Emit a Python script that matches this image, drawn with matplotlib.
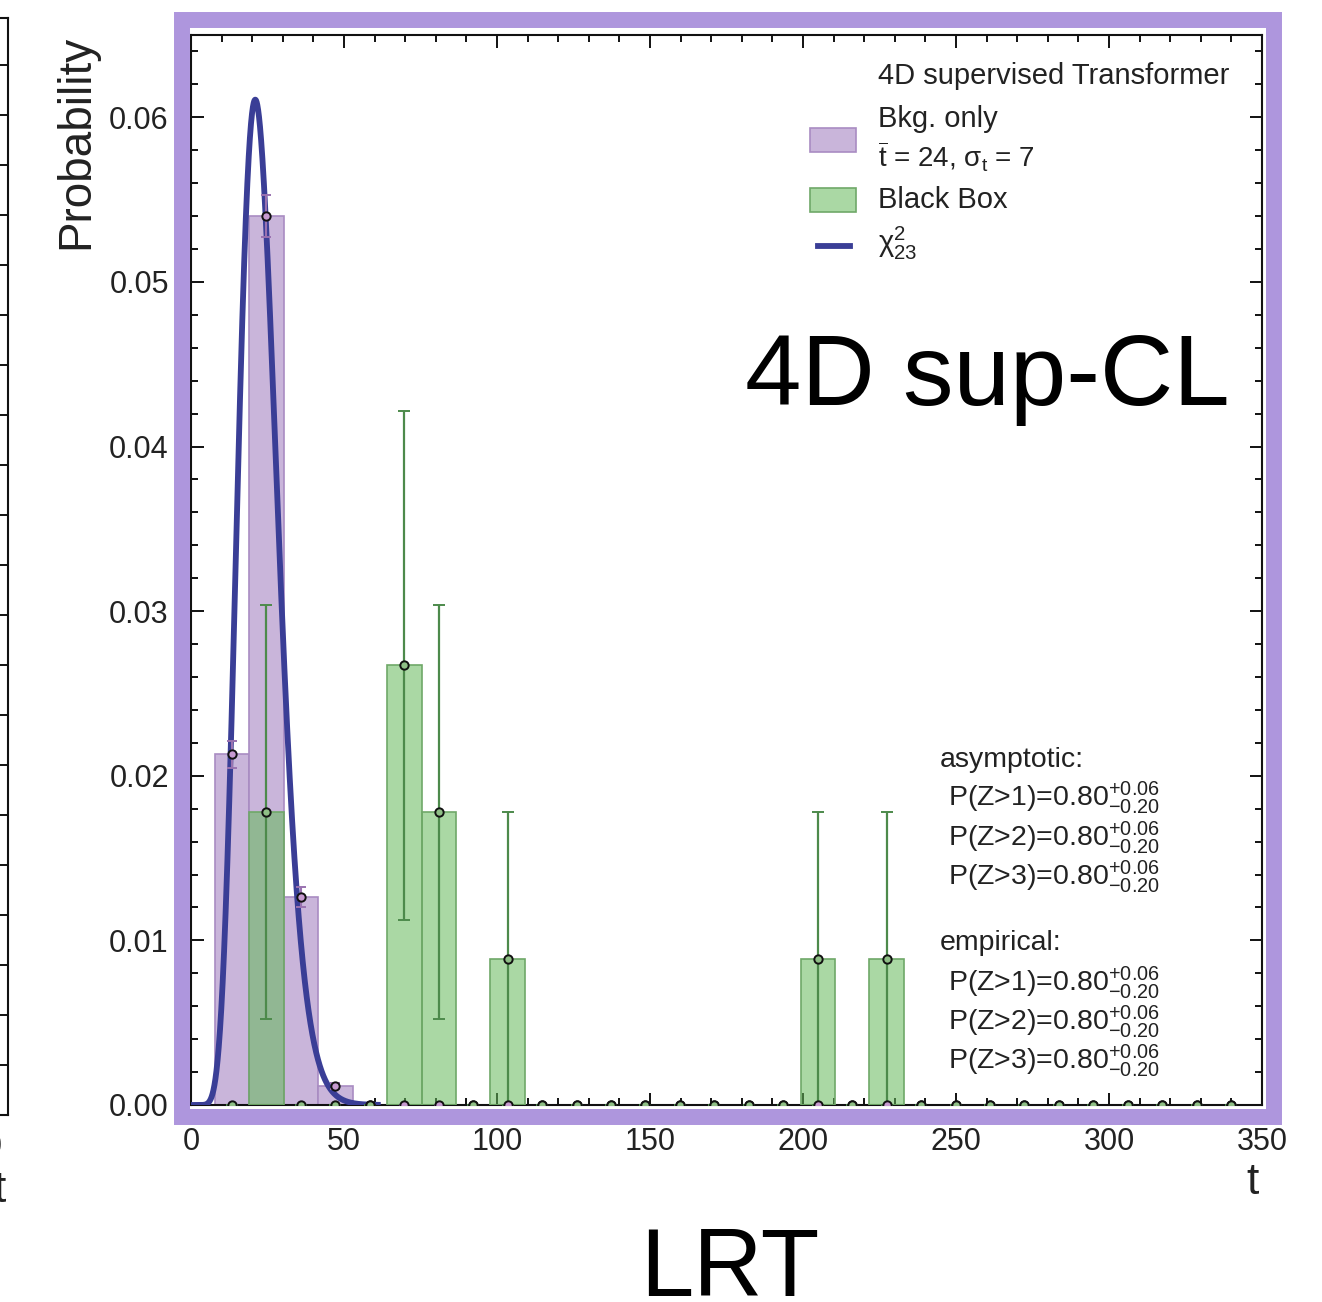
import math
import numpy as np
import matplotlib
matplotlib.use("Agg")
import matplotlib.pyplot as plt
from matplotlib.patches import Rectangle
from matplotlib.lines import Line2D
from matplotlib.ticker import MultipleLocator, FormatStrFormatter

plt.rcParams['font.family'] = ['Liberation Sans', 'DejaVu Sans']
plt.rcParams['mathtext.fontset'] = 'custom'
plt.rcParams['mathtext.rm'] = 'Liberation Sans'
plt.rcParams['mathtext.it'] = 'Liberation Sans:italic'
plt.rcParams['mathtext.bf'] = 'Liberation Sans:bold'

# ---- data ---------------------------------------------------------------
t_min, t_max, n_bins = 7.77, 345.57, 30

# background-only toys: probability density per bin and its uncertainty
bkg_density = [0.0213, 0.0540, 0.01263, 0.00115] + [0.0] * 26
bkg_error = [0.0008, 0.0013, 0.0006, 0.0002] + [0.0] * 26

# black-box sample: probability density per bin with asymmetric errors
bb_density = [0.0, 0.0178, 0.0, 0.0, 0.0, 0.0267, 0.0178, 0.0, 0.00888, 0.0,
              0.0, 0.0, 0.0, 0.0, 0.0, 0.0, 0.0, 0.00888, 0.0, 0.00888,
              0.0, 0.0, 0.0, 0.0, 0.0, 0.0, 0.0, 0.0, 0.0, 0.0]
bb_err_low = [0.0, 0.0126, 0.0, 0.0, 0.0, 0.01547, 0.0126, 0.0, 0.00888, 0.0,
              0.0, 0.0, 0.0, 0.0, 0.0, 0.0, 0.0, 0.00888, 0.0, 0.00888,
              0.0, 0.0, 0.0, 0.0, 0.0, 0.0, 0.0, 0.0, 0.0, 0.0]
bb_err_high = [0.0, 0.0126, 0.0, 0.0, 0.0, 0.01545, 0.0126, 0.0, 0.00892, 0.0,
               0.0, 0.0, 0.0, 0.0, 0.0, 0.0, 0.0, 0.00892, 0.0, 0.00892,
               0.0, 0.0, 0.0, 0.0, 0.0, 0.0, 0.0, 0.0, 0.0, 0.0]

chi2_dof = 23
x_ticks = [0, 50, 100, 150, 200, 250, 300, 350]
y_ticks = [0.00, 0.01, 0.02, 0.03, 0.04, 0.05, 0.06]

# ---- figure -------------------------------------------------------------
W, H = 1322, 1302
fig = plt.figure(figsize=(W / 100, H / 100), dpi=100)


def fx(px):
    return px / W


def fy(py):
    return 1 - py / H


ax = fig.add_axes([fx(191), fy(1105), fx(1262) - fx(191), fy(35) - fy(1105)])

edges = np.linspace(t_min, t_max, n_bins + 1)
centers = 0.5 * (edges[:-1] + edges[1:])
width = edges[1] - edges[0]

bkg = np.array(bkg_density)
bb = np.array(bb_density)

purple_face = '#c9b5da'
purple_edge = '#a98cc2'
green_face = (100 / 255, 185 / 255, 90 / 255, 0.55)
green_edge = '#6fa868'
curve_col = '#3a3e96'

nz = bkg > 0
ax.bar(centers[nz], bkg[nz], width=width, color=purple_face,
       edgecolor=purple_edge, linewidth=1.2, zorder=2)
nz = bb > 0
ax.bar(centers[nz], bb[nz], width=width, color=green_face,
       edgecolor=green_edge, linewidth=1.2, zorder=3)

# chi-square density
tt = np.linspace(0.01, 62, 1500)
k = chi2_dof
log_pdf = (k / 2 - 1) * np.log(tt) - tt / 2 - (k / 2) * math.log(2) - math.lgamma(k / 2)
ax.plot(tt, np.exp(log_pdf), color=curve_col, lw=4.2, zorder=4,
        solid_capstyle='butt')

# points with error bars
ax.errorbar(centers, bkg, yerr=bkg_error, fmt='o', ms=6, mfc='#c79ad0',
            mec='#111111', mew=1.4, ecolor='#9a72b0', elinewidth=1.5,
            capsize=3.5, capthick=1.5, zorder=5)
ax.errorbar(centers, bb, yerr=[bb_err_low, bb_err_high], fmt='o', ms=6,
            mfc='#8fbf86', mec='#111111', mew=1.4, ecolor='#4d8a4b',
            elinewidth=1.6, capsize=4, capthick=1.6, zorder=5)

ax.set_xlim(0, 350)
ax.set_ylim(0, 0.065)
ax.set_xticks(x_ticks)
ax.set_yticks(y_ticks)
ax.xaxis.set_minor_locator(MultipleLocator(10))
ax.yaxis.set_minor_locator(MultipleLocator(0.002))
ax.yaxis.set_major_formatter(FormatStrFormatter('%.2f'))
ax.tick_params(which='both', direction='in', top=True, right=True,
               width=1.4, color='#111111')
ax.tick_params(which='major', length=9, labelsize=22, pad=16,
               labelcolor='#222222')
ax.tick_params(which='minor', length=5)
for s in ax.spines.values():
    s.set_linewidth(1.5)
    s.set_color('#111111')

# axis labels
fig.text(fx(76), fy(142), 'Probability', rotation=90, ha='center',
         va='center', fontsize=33, color='#222222')
fig.text(fx(1253), fy(1183), 't', ha='center', va='center', fontsize=32,
         color='#222222')

# legend
tr = ax.transAxes


def ax_xy(px, py):
    return ((px - 191) / (1262 - 191), (1105 - py) / (1105 - 35))


lg_font = 21
x0, _ = ax_xy(878, 0)
ax.text(x0, ax_xy(0, 76)[1], '4D supervised Transformer', transform=tr,
        fontsize=lg_font, va='center', ha='left', color='#222222')
ax.text(x0, ax_xy(0, 119)[1], 'Bkg. only', transform=tr,
        fontsize=lg_font, va='center', ha='left', color='#222222')
ax.text(x0, ax_xy(0, 157)[1], r'$\overline{\mathrm{t}}$ = 24, σ$_\mathrm{t}$ = 7',
        transform=tr, fontsize=lg_font - 1, va='center', ha='left',
        color='#222222')
ax.text(x0, ax_xy(0, 200)[1], 'Black Box', transform=tr,
        fontsize=lg_font, va='center', ha='left', color='#222222')
ax.text(x0, ax_xy(0, 243)[1], r'χ$^2_{23}$', transform=tr,
        fontsize=lg_font, va='center', ha='left', color='#222222')

for (y_top, y_bot), fc, ec in [((128, 152), purple_face, purple_edge),
                                ((188, 212), green_face, green_edge)]:
    xa, ya = ax_xy(810, y_bot)
    xb, yb = ax_xy(856, y_top)
    ax.add_patch(Rectangle((xa, ya), xb - xa, yb - ya, transform=tr,
                           facecolor=fc, edgecolor=ec, lw=1.2, zorder=6))
xa, yl = ax_xy(818, 246)
xb, _ = ax_xy(850, 246)
ax.add_line(Line2D([xa, xb], [yl, yl], transform=tr, color=curve_col, lw=4.2,
                   zorder=6))

# significance summary
stat_font = 20.5
summary = [('asymptotic:', 940, 760), (None, 948, 798), (None, 948, 838),
           (None, 948, 877), ('empirical:', 940, 943), (None, 948, 983),
           (None, 948, 1022), (None, 948, 1061)]
z_level = 1
for head, px, py in summary:
    if head is not None:
        s = head
        z_level = 1
    else:
        s = r'P(Z>%d)=0.80$^{+0.06}_{-0.20}$' % z_level
        z_level += 1
    xa, ya = ax_xy(px, py)
    ax.text(xa, ya, s, transform=tr, fontsize=stat_font, va='center',
            ha='left', color='#222222')

# panel annotations
fig.text(fx(1230), fy(405), '4D sup-CL', ha='right', va='baseline',
         fontsize=73, color='black')
fig.text(fx(730), fy(1296), 'LRT', ha='center', va='baseline',
         fontsize=69, color='black')

# highlight frame around the panel
fig.patches.append(Rectangle((fx(182), fy(1116.5)), fx(1273.5) - fx(182),
                             fy(20) - fy(1116.5), transform=fig.transFigure,
                             fill=False, edgecolor='#ae96dd', lw=11.5,
                             zorder=1))

# edge of the neighbouring panel
axl = fig.add_axes([fx(-100), fy(1115), fx(108), fy(18) - fy(1115)])
axl.set_xlim(0, 1)
axl.set_ylim(0, 1097)
axl.set_xticks([])
axl.yaxis.set_major_locator(MultipleLocator(50))
axl.tick_params(axis='y', direction='in', left=False, right=True,
                labelleft=False, length=6, width=1.4, color='#111111')
axl.spines['left'].set_visible(False)
for side in ['right', 'top', 'bottom']:
    axl.spines[side].set_linewidth(1.5)
    axl.spines[side].set_color('#111111')
fig.text(fx(3), fy(1147), '350', ha='right', va='center', fontsize=22,
         color='#222222')
fig.text(fx(0), fy(1190), 't', ha='center', va='center', fontsize=32,
         color='#222222')

fig.savefig('out.png', dpi=100)
